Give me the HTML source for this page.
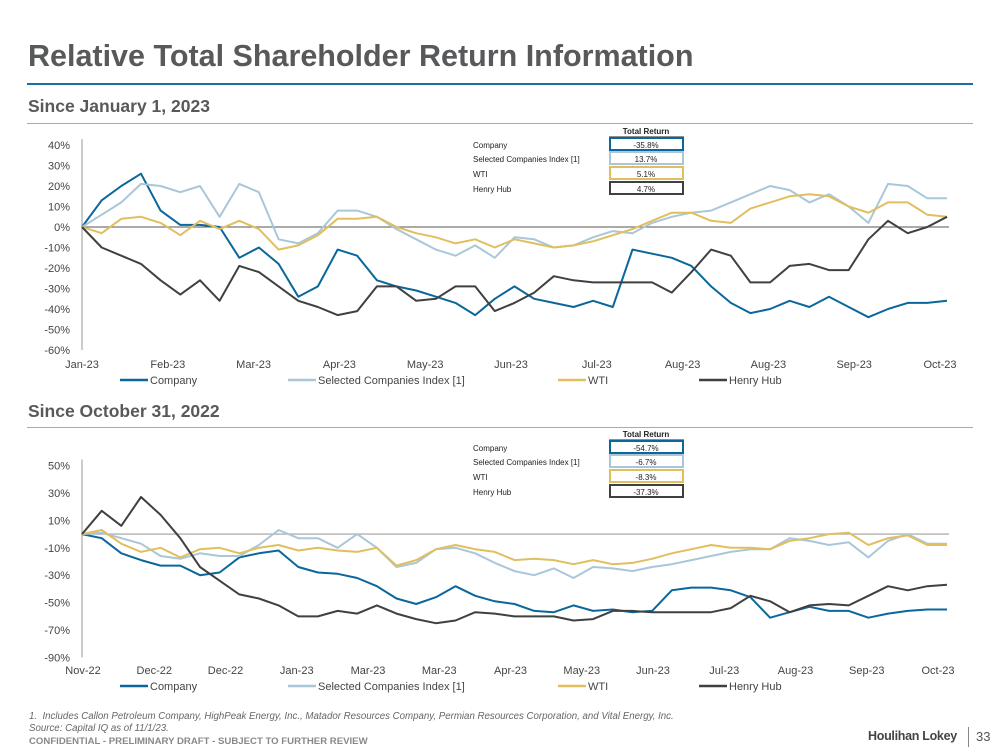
<!DOCTYPE html>
<html><head><meta charset="utf-8"><style>
body{margin:0;width:999px;height:750px;background:#fff;font-family:"Liberation Sans",sans-serif;overflow:hidden;position:relative}
.abs{position:absolute;white-space:nowrap}
</style></head><body>
<div class="abs" style="left:28px;top:39px;font-size:30.5px;font-weight:bold;color:#58595b">Relative Total Shareholder Return Information</div>
<div class="abs" style="left:27px;top:83px;width:946px;height:2px;background:#1b6f9e"></div>
<div class="abs" style="left:28px;top:96px;font-size:17.5px;font-weight:bold;color:#58595b">Since January 1, 2023</div>
<div class="abs" style="left:27px;top:123px;width:946px;height:1px;background:#aaa"></div>
<div class="abs" style="left:28px;top:401px;font-size:17.5px;font-weight:bold;color:#58595b">Since October 31, 2022</div>
<div class="abs" style="left:27px;top:427px;width:946px;height:1px;background:#aaa"></div>
<div class="abs" style="left:29px;top:711px;font-size:9.7px;font-style:italic;color:#666;line-height:12px">1.&nbsp; Includes Callon Petroleum Company, HighPeak Energy, Inc., Matador Resources Company, Permian Resources Corporation, and Vital Energy, Inc.<br>Source: Capital IQ as of 11/1/23.</div>
<div class="abs" style="left:29px;top:736px;font-size:9.6px;font-weight:bold;color:#888">CONFIDENTIAL - PRELIMINARY DRAFT - SUBJECT TO FURTHER REVIEW</div>
<div class="abs" style="left:868px;top:729px;font-size:12.5px;font-weight:bold;color:#444;letter-spacing:-0.3px">Houlihan Lokey</div>
<div class="abs" style="left:968px;top:727px;width:1px;height:20px;background:#888"></div>
<div class="abs" style="left:976px;top:729px;font-size:13px;color:#555">33</div>
<svg id="svg" width="999" height="750" style="position:absolute;left:0;top:0"></svg>
<script>
const seriesNames=["Company","Selected Companies Index [1]","WTI","Henry Hub"];
const seriesColors=["#0b679b","#a9c7d8","#e1bf5f","#404040"];
const c1XLabels=["Jan-23","Feb-23","Mar-23","Apr-23","May-23","Jun-23","Jul-23","Aug-23","Aug-23","Sep-23","Oct-23"];
const c1YTicks=[40,30,20,10,0,-10,-20,-30,-40,-50,-60];
const c1Company=[0,13,20,26,8,1,1,0,-15,-10,-18,-34,-29,-11,-14,-26,-29,-31,-34,-37,-43,-35,-29,-35,-37,-39,-36,-39,-11,-13,-15,-19,-29,-37,-42,-40,-36,-39,-34,-39,-44,-40,-37,-37,-36];
const c1Index=[0,6,12,21,20,17,20,5,21,17,-6,-8,-3,8,8,5,-1,-6,-11,-14,-9,-15,-5,-6,-10,-9,-5,-2,-3,2,5,7,8,12,16,20,18,12,16,10,2,21,20,14,14];
const c1WTI=[0,-3,4,5,2,-4,3,-1,3,-1,-11,-9,-4,4,4,5,0,-3,-5,-8,-6,-10,-6,-8,-10,-9,-7,-4,-1,3,7,7,3,2,9,12,15,16,15,10,7,12,12,6,5];
const c1HH=[0,-10,-14,-18,-26,-33,-26,-36,-19,-22,-29,-36,-39,-43,-41,-29,-29,-36,-35,-29,-29,-41,-37,-32,-24,-26,-27,-27,-27,-27,-32,-22,-11,-14,-27,-27,-19,-18,-21,-21,-6,3,-3,0,5];
const c1Totals=["-35.8%","13.7%","5.1%","4.7%"];
const c2XLabels=["Nov-22","Dec-22","Dec-22","Jan-23","Mar-23","Mar-23","Apr-23","May-23","Jun-23","Jul-23","Aug-23","Sep-23","Oct-23"];
const c2YTicks=[50,30,10,-10,-30,-50,-70,-90];
const c2Company=[0,-3,-14,-19,-23,-23,-30,-28,-17,-14,-12,-24,-28,-29,-32,-38,-47,-51,-46,-38,-45,-49,-51,-56,-57,-52,-56,-55,-57,-56,-41,-39,-39,-41,-46,-61,-57,-53,-56,-56,-61,-58,-56,-55,-55];
const c2Index=[0,1,-3,-7,-16,-18,-14,-16,-16,-8,3,-3,-3,-10,0,-10,-24,-21,-11,-10,-14,-21,-27,-30,-25,-32,-24,-25,-27,-24,-22,-19,-16,-13,-11,-11,-3,-5,-8,-6,-17,-5,0,-7,-7];
const c2WTI=[0,3,-7,-13,-10,-17,-11,-10,-14,-10,-8,-12,-10,-12,-13,-10,-23,-19,-11,-8,-11,-13,-19,-18,-19,-22,-19,-22,-21,-18,-14,-11,-8,-10,-10,-11,-5,-3,0,1,-8,-3,-1,-8,-8];
const c2HH=[0,17,6,27,14,-3,-24,-34,-44,-47,-52,-60,-60,-56,-58,-52,-58,-62,-65,-63,-57,-58,-60,-60,-60,-63,-62,-56,-56,-57,-57,-57,-57,-54,-45,-49,-57,-52,-51,-52,-45,-38,-41,-38,-37];
const c2Totals=["-54.7%","-6.7%","-8.3%","-37.3%"];

const NS="http://www.w3.org/2000/svg";
const svg=document.getElementById('svg');
function mk(tag,attrs,parent){const e=document.createElementNS(NS,tag);for(const k in attrs)e.setAttribute(k,attrs[k]);(parent||svg).appendChild(e);return e;}
function txt(x,y,s,size,anchor,parent,extra){const t=mk('text',Object.assign({x:x,y:y,'font-size':size,'text-anchor':anchor||'start',fill:'#444','font-family':'Liberation Sans, sans-serif'},extra||{}),parent);t.textContent=s;return t;}

function drawChart(cfg,series,xLabels,yTicks,totals){
  const g=mk('g',{});
  
  
  function ys(v){return cfg.yTop+(cfg.vMax-v)/(cfg.vMax-cfg.vMin)*(cfg.yBot-cfg.yTop);}
  const n=series[0].length;
  function xs(i){return cfg.xL+i*(cfg.xR-cfg.xL)/(n-1);}
  const ax=mk('line',{x1:cfg.xL,y1:cfg.yTop-6,x2:cfg.xL,y2:cfg.yBot,stroke:'#999','stroke-width':1},g);
  
  
  const zl=mk('line',{x1:cfg.xL,y1:ys(0),x2:cfg.xR+2,y2:ys(0),stroke:cfg.zeroColor,'stroke-width':1.3},g);
  
  
  yTicks.forEach(v=>{const t=txt(cfg.xL-12,ys(v)+4,v+'%',11,'end',g);
    
    });
  xLabels.forEach((s,i)=>{const x=cfg.lx0+i*(cfg.lx1-cfg.lx0)/(xLabels.length-1);
    const t=txt(x,cfg.xLabY,s,11,'middle',g);
    
    });
  series.forEach((arr,si)=>{
    const d=arr.map((v,i)=>(i?'L':'M')+xs(i).toFixed(1)+','+ys(v).toFixed(1)).join('');
    const p=mk('path',{d:d,fill:'none',stroke:seriesColors[si],'stroke-width':2,'stroke-linejoin':'round'},g);
    
    
  });
  const legX=[120,288,558,699];
  seriesNames.forEach((s,i)=>{
    const l=mk('line',{x1:legX[i],y1:cfg.legY,x2:legX[i]+28,y2:cfg.legY,stroke:seriesColors[i],'stroke-width':2.5},g);
    
    
    const t=txt(legX[i]+30,cfg.legY+4,s,11,'start',g);
    
    
  });
  const h=txt(646,cfg.tbY,'Total Return',8,'middle',g,{'font-weight':'bold',fill:'#222'});
  
  
  const hl=mk('line',{x1:609,y1:cfg.tbY+3,x2:684,y2:cfg.tbY+3,stroke:'#222','stroke-width':1},g);
  
  
  const rowY=[0,14,29,44];
  seriesNames.forEach((s,i)=>{
    const y=cfg.tbY+11+rowY[i];
    const t=txt(473,y+3,s,8,'start',g,{fill:'#222'});
    
    
    const r=mk('rect',{x:610,y:y-7,width:73,height:12,fill:'#fff',stroke:seriesColors[i],'stroke-width':2},g);
    
    
    const v=txt(646,y+3,totals[i],8,'middle',g,{fill:'#222'});
    
    
  });
}
drawChart({name:'chart-since-jan-2023',xL:82,xR:947,yTop:145,yBot:350,vMax:40,vMin:-60,zeroColor:'#777',lx0:82,lx1:940,xLabY:368,legY:380,tbY:134},
  [c1Company,c1Index,c1WTI,c1HH],c1XLabels,c1YTicks,c1Totals);
drawChart({name:'chart-since-oct-2022',xL:82,xR:947,yTop:465.5,yBot:657.5,vMax:50,vMin:-90,zeroColor:'#b0b0b0',lx0:83,lx1:938,xLabY:674,legY:686,tbY:437},
  [c2Company,c2Index,c2WTI,c2HH],c2XLabels,c2YTicks,c2Totals);
</script>
</body></html>
